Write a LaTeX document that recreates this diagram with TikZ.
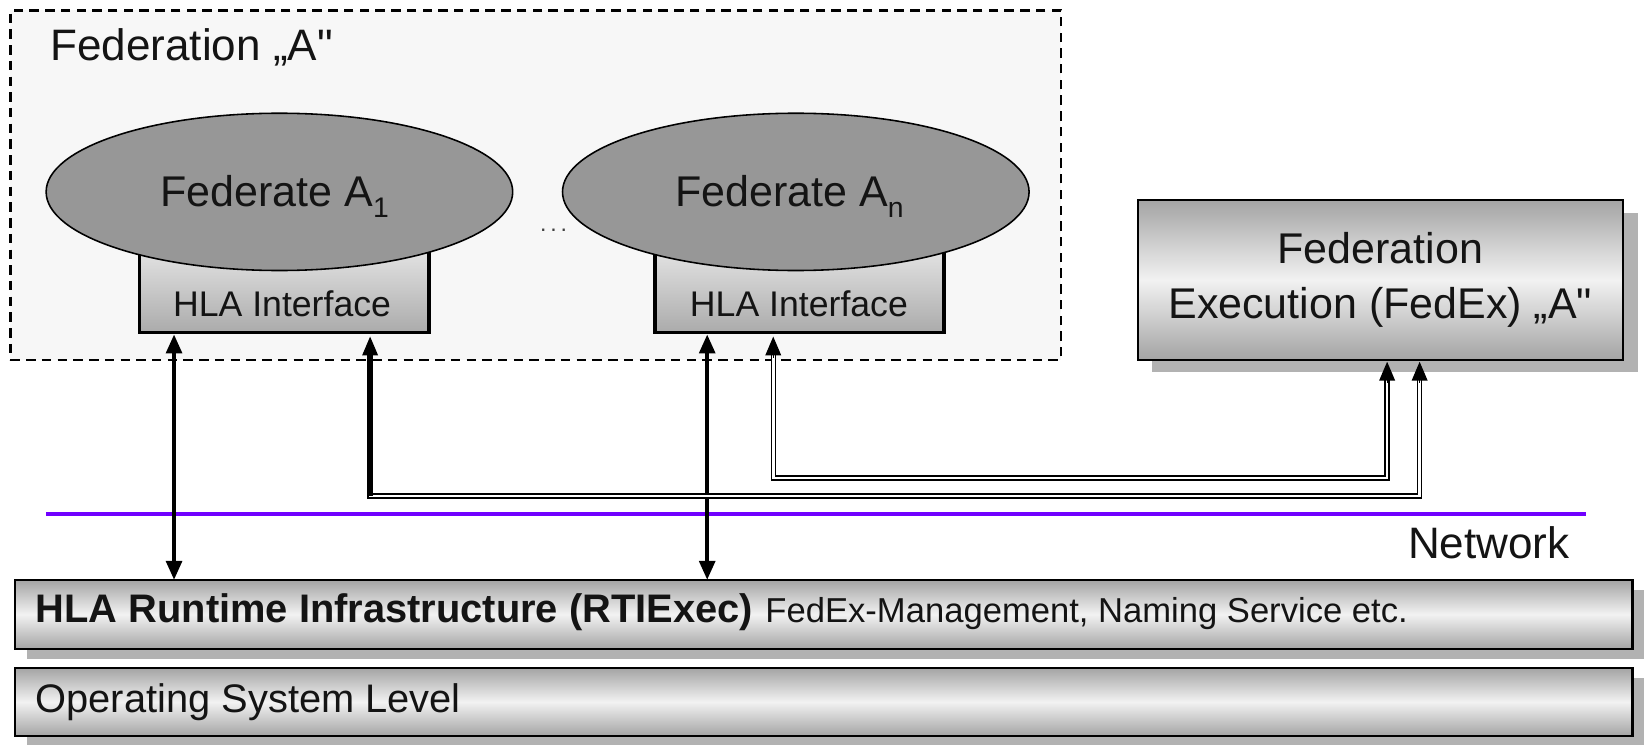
\documentclass[tikz,border=0pt]{standalone}
\usepackage{fontspec}
\setmainfont{Liberation Sans}
\usetikzlibrary{arrows.meta,shapes.geometric,calc,shadows}

\definecolor{framefill}{HTML}{F7F7F7}
\definecolor{fedgray}{HTML}{979797}
\definecolor{shadowgray}{HTML}{B2B2B2}
\definecolor{barlight}{HTML}{F2F2F2}
\definecolor{bardark}{HTML}{A4A4A4}
\definecolor{ifacelight}{HTML}{E2E2E2}
\definecolor{ifacedark}{HTML}{ABABAB}
\definecolor{netviolet}{RGB}{112,0,255}
\definecolor{ink}{HTML}{141414}

\newcommand{\fsz}[1]{\fontsize{#1}{#1}\selectfont}
% straight double quote, placed as a glyph so no ligature mapping turns it curly
\newcommand{\sq}{\XeTeXglyph\XeTeXcharglyph"22\relax}

\begin{document}
\begin{tikzpicture}[x=1pt,y=-1pt,
  every node/.style={inner sep=0pt, outer sep=0pt, text=ink},
  fedframe/.style={draw, dash pattern=on 9pt off 6pt, line width=2pt,
    fill=framefill, minimum width=1002pt, minimum height=333pt},
  federate/.style={ellipse, draw=black, line width=1.5pt, fill=fedgray,
    minimum width=445pt, minimum height=150pt},
  iface/.style={draw, line width=3.5pt, top color=ifacelight,
    bottom color=ifacedark, minimum width=276pt, minimum height=77pt},
  cylbox/.style={draw, line width=2pt, top color=bardark, bottom color=bardark,
    middle color=barlight},
  fedexbox/.style={cylbox, minimum width=463pt, minimum height=152pt,
    general shadow={fill=shadowgray, shadow xshift=14pt, shadow yshift=-12pt},
    align=center, font=\fontsize{41}{52}\selectfont},
  layerbar/.style={cylbox, minimum width=1543pt, minimum height=66pt,
    general shadow={fill=shadowgray, shadow xshift=12pt, shadow yshift=-10pt}},
  bidir/.style={line width=3.5pt,
    {Triangle[width=15pt,length=18pt]}-{Triangle[width=15pt,length=18pt]}},
  dbl/.style={line width=1.4pt, double=white, double distance=2.4pt},
  tipup/.style={line width=1.2pt, -{Triangle[width=15pt,length=18pt]}}
]
\useasboundingbox (0,0) rectangle (1568,710);

% federation frame and its title
\node[fedframe] (fedA) at (511,176.5) {};
\node[anchor=base west, font=\fsz{42}] (fedAlabel) at (48,58) {Federation „A\sq};

% HLA interfaces sit under the federates
\node[iface] (if1) at (271,278.5) {};
\node[iface] (if2) at (762.5,278.5) {};
\node[anchor=base, font=\fsz{34}] (if1t) at (269,302) {HLA Interface};
\node[anchor=base, font=\fsz{34}] (if2t) at (762,302) {HLA Interface};

% federates
\node[federate] (e1) at (266.5,183) {};
\node[federate] (en) at (759,183) {};
\node[anchor=base, font=\fsz{41}] (e1t) at (262,197)
  {Federate A\raisebox{-0.25em}{\fsz{27}1}};
\node[anchor=base, font=\fsz{41}] (ent) at (753,197)
  {Federate A\raisebox{-0.25em}{\fsz{27}n}};
\node[anchor=base, font=\fsz{22}, text=black!75] (dots) at (528,221) {.\,.\,.};

% federation execution
\node[fedexbox] (fedex) at (1316.5,267) {Federation\\Execution (FedEx) „A\sq};

% network
\coordinate (netL) at (44,490);
\coordinate (netR) at (1513,490);
\draw[netviolet, line width=4pt] (netL) -- (netR);
\node[anchor=base east, font=\fsz{42}] (net) at (1497,533) {Network};

% runtime infrastructure and operating system layers
\node[layerbar] (rti) at (785.5,586) {};
\node[anchor=base west] (rtit) at (34,594)
  {{\fsz{38}\bfseries HLA Runtime Infrastructure (RTIExec)}\hspace{12pt}\fsz{33}FedEx-Management, Naming Service etc.};
\node[layerbar, minimum height=65pt] (os) at (785.5,669.5) {};
\node[anchor=base west, font=\fsz{38}] (ost) at (34,680) {Operating System Level};

% interfaces <-> RTI
\coordinate (p1) at ($(if1.south west)+(33,2)$);
\coordinate (p2) at ($(if2.south west)+(50,2)$);
\draw[bidir] (p1) -- (p1 |- rti.north);
\draw[bidir] (p2) -- (p2 |- rti.north);

% interfaces <-> federation execution
\coordinate (q1) at ($(if1.south west)+(220,4)$);
\coordinate (k1) at ($(q1)+(0,152)$);
\coordinate (f1) at ($(fedex.south west)+(269,2)$);
\coordinate (q2) at ($(if2.south west)+(113,4)$);
\coordinate (k2) at ($(q2)+(0,135)$);
\coordinate (f2) at ($(fedex.south west)+(238,2)$);

\draw[dbl] ($(q1)+(0,10)$) -- (k1) -| ($(f1)+(0,10)$);
\draw[line width=5.2pt] ($(q1)+(0,10)$) -- (k1);
\draw[dbl] ($(q2)+(0,10)$) -- (k2) -| ($(f2)+(0,10)$);

\draw[tipup] ($(q1)+(0,20)$) -- (q1);
\draw[tipup] ($(q2)+(0,20)$) -- (q2);
\draw[tipup] ($(f1)+(0,20)$) -- (f1);
\draw[tipup] ($(f2)+(0,20)$) -- (f2);
\end{tikzpicture}
\end{document}
